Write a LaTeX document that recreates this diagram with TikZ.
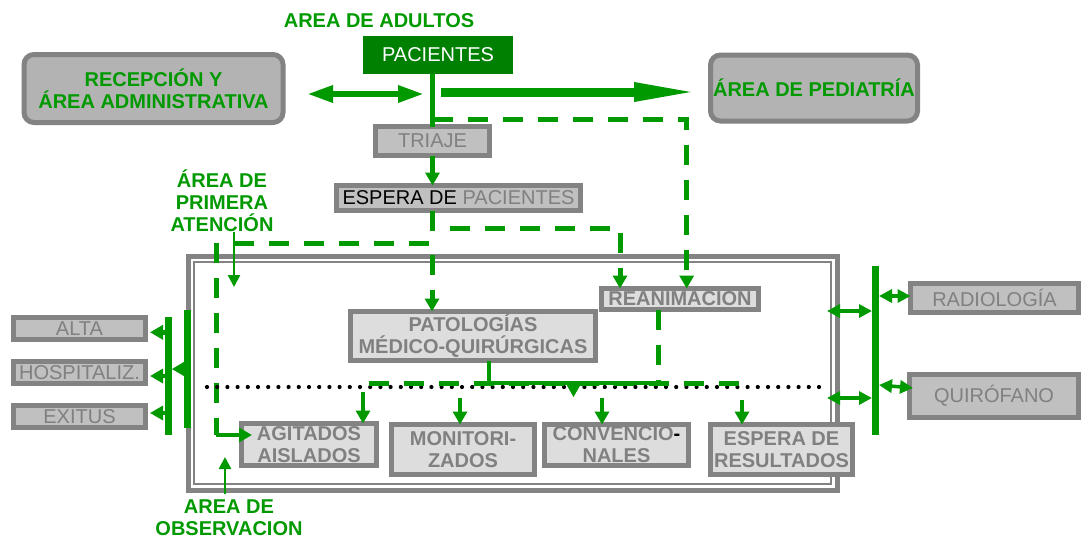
\documentclass[tikz,border=0pt]{standalone}
\usepackage{fontspec}
\setmainfont{Liberation Sans}
\usetikzlibrary{arrows.meta,calc}

\definecolor{gr}{HTML}{009900}
\definecolor{pacgreen}{HTML}{008000}
\definecolor{bordergray}{HTML}{838383}
\definecolor{txtgray}{HTML}{808080}
\definecolor{fillmid}{HTML}{C0C0C0}
\definecolor{filllight}{HTML}{DDDDDD}
\definecolor{fillround}{HTML}{B3B3B3}

\tikzset{
  base/.style={inner sep=0pt, outer sep=0pt, align=center,
    font=\fontsize{20}{22}\selectfont},
  roundbox/.style={base, draw=bordergray, fill=fillround, line width=5pt,
    rounded corners=10pt, text=gr, font=\fontsize{20}{22}\selectfont\bfseries},
  midbox/.style={base, draw=bordergray, fill=fillmid, line width=5pt, text=txtgray},
  lightbox/.style={base, draw=bordergray, fill=filllight, line width=5pt,
    text=txtgray, font=\fontsize{20}{22}\selectfont\bfseries},
  greenlabel/.style={base, text=gr, font=\fontsize{20}{22}\selectfont\bfseries},
  greenbar/.style={fill=gr, inner sep=0pt, outer sep=0pt, minimum width=6.5pt},
  gtip/.style={-{Triangle[length=13pt,width=14pt]}},
  flow/.style={draw=gr, line width=4.5pt, gtip},
  thinflow/.style={draw=gr, line width=2.5pt, -{Triangle[length=12pt,width=12pt]}},
  dflow/.style={draw=gr, line width=5pt, dash pattern=on 20pt off 15pt},
  twoway/.style={draw=gr, line width=3.5pt,
    {Triangle[length=13pt,width=13pt]}-{Triangle[length=13pt,width=13pt]}},
}

\begin{document}
\begin{tikzpicture}[x=1pt,y=-1pt]
\useasboundingbox (0,0) rectangle (1082,539);

% ---- main frame of the adult area (double border)
\node[draw=bordergray, line width=5pt, inner sep=0pt, outer sep=0pt,
      minimum width=649pt, minimum height=234pt] (frame) at (512.5,373) {};
\draw[bordergray, line width=2pt]
  ($(frame.north west)+(6,6)$) rectangle ($(frame.south east)+(-6,-6)$);

% ---- top row
\node[greenlabel] (adultos) at (379,20.7) {AREA DE ADULTOS};
\node[base, fill=pacgreen, text=white, minimum width=150pt, minimum height=38pt]
  (pac) at (438,55) {PACIENTES};
\node[roundbox, minimum width=259pt, minimum height=68pt]
  (recep) at (153.5,88.5) {RECEPCIÓN Y\\ÁREA ADMINISTRATIVA};
\node[roundbox, minimum width=207pt, minimum height=66pt]
  (pedi) at (814,88) {ÁREA DE PEDIATRÍA};

% ---- triage and waiting room
\node[midbox, minimum width=114pt, minimum height=29pt]
  (triaje) at (432.5,141) {TRIAJE};
\node[midbox, minimum width=244pt, minimum height=25pt]
  (espera) at (458.5,198) {\textcolor{black}{ESPERA DE} PACIENTES};

% ---- first attention area
\node[greenlabel] (atencion) at (222,201) {ÁREA DE\\PRIMERA\\ATENCIÓN};
\node[lightbox, minimum width=245pt, minimum height=49pt]
  (patol) at (473,336) {PATOLOGÍAS\\MÉDICO-QUIRÚRGICAS};
\node[lightbox, minimum width=157pt, minimum height=21pt]
  (reanim) at (680,299) {REANIMACION};

% ---- observation area
\node[lightbox, minimum width=135pt, minimum height=42pt]
  (agit) at (309,444.5) {AGITADOS\\AISLADOS};
\node[lightbox, minimum width=143pt, minimum height=50pt]
  (monit) at (463,449.5) {MONITORI-\\ZADOS};
\node[lightbox, minimum width=144pt, minimum height=41pt]
  (conv) at (616.5,445) {CONVENCIO\textcolor{black}{-}\\NALES};
\node[lightbox, minimum width=142pt, minimum height=50pt]
  (esperes) at (781.5,449.5) {ESPERA DE\\RESULTADOS};
\node[greenlabel] (observ) at (229,517.5) {AREA DE\\OBSERVACION};

% ---- exits (left)
\node[midbox, minimum width=132pt, minimum height=22pt] (alta) at (79.5,328.5) {ALTA};
\node[midbox, minimum width=132pt, minimum height=22pt] (hosp) at (79.5,372.5) {HOSPITALIZ.};
\node[midbox, minimum width=132pt, minimum height=22pt] (exitus) at (79.5,416.5) {EXITUS};

% ---- services (right)
\node[midbox, minimum width=168pt, minimum height=29pt] (radio) at (994.5,298) {RADIOLOGÍA};
\node[midbox, minimum width=169pt, minimum height=43pt] (quiro) at (994,396) {QUIRÓFANO};

% ---- distribution bars
\node[greenbar, minimum height=118pt] (barA) at (168.5,376) {};
\node[greenbar, minimum height=118pt] (barB) at (187.5,369) {};
\node[greenbar, minimum width=7pt, minimum height=169pt] (barR) at (875.5,350.5) {};

% ---- free ends of connectors
\coordinate (dblL) at (307,94);
\coordinate (dblR) at (424,94);
\coordinate (bigS) at (441,92);
\coordinate (bigE) at (700,92);
\coordinate (br1) at (432.5,119);
\coordinate (atA) at (234,232);
\coordinate (atB) at (234,287);
\coordinate (atC) at (234,243);
\coordinate (obsA) at (216,243);
\coordinate (obsB) at (216,435);
\coordinate (obsS) at (225,494);
\coordinate (obsT) at (225,457);
\coordinate (dotL) at (207,387);
\coordinate (dotR) at (820,387);
\coordinate (hdL) at (369,383);
\coordinate (hdR) at (745,383);
\coordinate (tri) at (573.5,383);
\coordinate (s1) at (363,392);
\coordinate (s2) at (460,398);
\coordinate (s3) at (602,398);
\coordinate (s4) at (742,400);
\coordinate (fr1) at (827,311);
\coordinate (fr2) at (827,398);

% ---- top connectors
\draw[gr, line width=6pt,
  {Triangle[length=26pt,width=16pt]}-{Triangle[length=26pt,width=16pt]}] (dblL) -- (dblR);
\draw[gr, line width=9pt, -{Triangle[length=66pt,width=17pt]}] (bigS) -- (bigE);
\draw[gr, line width=5pt] (pac.south -| triaje.north) -- (triaje.north);
\draw[flow] (triaje.south) -- (triaje.south |- espera.north);
\draw[dflow, gtip] (br1) -| ($(reanim.north)+(6.7,0)$);
\draw[dflow, gtip] (espera.south -| triaje.south) -- ++(0,17.5)
  -| ($(reanim.north)+(-60,0)$);

% ---- first attention connectors
\draw[thinflow] (atA) -- (atB);
\draw[dflow, gtip] (atC) -| ($(patol.north)+(-41,0)$);
\draw[dflow] (obsA) -- (obsB);
\draw[flow] (obsB) -- ($(agit.west)+(10.5,-9.5)$);
\draw[thinflow] (obsS) -- (obsT);

% ---- separation between attention and observation
\draw[black, line width=4.2pt, line cap=round, dash pattern=on 0pt off 10.2pt]
  (dotL) -- (dotR);
\draw[dflow] (hdL) -- (hdR);
\draw[dflow] ($(reanim.south)+(-22,0)$) -- ($(reanim.south)+(-22,73.5)$);
\draw[gr, line width=4.5pt] ($(patol.south)+(16,0)$) |- ($(reanim.south)+(-22,73.5)$);
\fill[gr] ($(tri)+(-8,0)$) -- ($(tri)+(8,0)$) -- ($(tri)+(0,14)$) -- cycle;

\draw[flow] (s1) -- (s1 |- agit.north);
\draw[flow] (s2) -- (s2 |- monit.north);
\draw[flow] (s3) -- (s3 |- conv.north);
\draw[flow] (s4) -- (s4 |- esperes.north);

% ---- exits
\draw[flow] ($(barA.west |- alta.east)+(0,3.8)$) -- ($(alta.east)+(4.5,3.8)$);
\draw[flow] ($(barA.west |- hosp.east)+(0,3.5)$) -- ($(hosp.east)+(4.5,3.5)$);
\draw[flow] ($(barA.west |- exitus.east)+(0,-3.5)$) -- ($(exitus.east)+(4.5,-3.5)$);
\draw[flow] ($(barB.west |- hosp.east)+(0,-3.5)$) -- ($(barA.east |- hosp.east)+(0,-3.5)$);

% ---- services
\draw[twoway] (fr1) -- (barR.west |- fr1);
\draw[twoway] (fr2) -- (barR.west |- fr2);
\draw[twoway] ($(barR.east |- radio.west)+(0,-2)$) -- ($(radio.west)+(0,-2)$);
\draw[twoway] ($(barR.east |- quiro.west)+(0,-11)$) -- ($(quiro.west)+(3.5,-8)$);
\end{tikzpicture}
\end{document}
